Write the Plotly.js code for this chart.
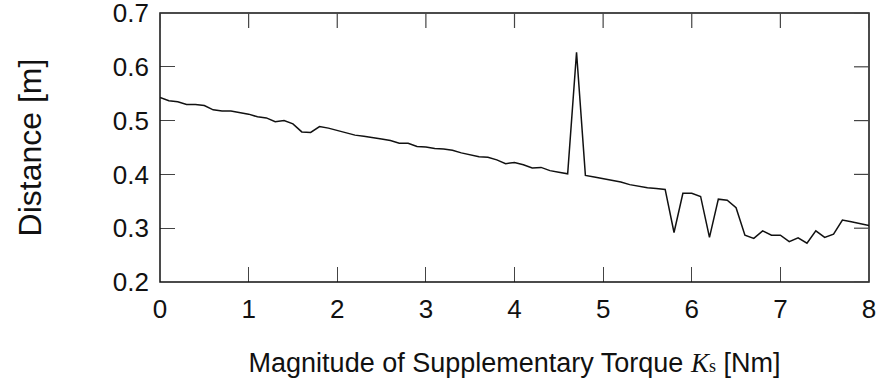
<!DOCTYPE html>
<html>
<head>
<meta charset="utf-8">
<script src="https://cdn.plot.ly/plotly-3.0.1.min.js"></script>
<style>html,body{margin:0;padding:0;background:#fff;}#chart{width:882px;height:387px;}</style>
</head>
<body>
<div id="chart"></div>
<script>
var torque = [0.0,0.1,0.2,0.3,0.4,0.5,0.6,0.7,0.8,0.9,
  1.0,1.1,1.2,1.3,1.4,1.5,1.6,1.7,1.8,1.9,
  2.0,2.1,2.2,2.3,2.4,2.5,2.6,2.7,2.8,2.9,
  3.0,3.1,3.2,3.3,3.4,3.5,3.6,3.7,3.8,3.9,
  4.0,4.1,4.2,4.3,4.4,4.5,4.6,4.7,4.8,4.9,
  5.0,5.1,5.2,5.3,5.4,5.5,5.6,5.7,5.8,5.9,
  6.0,6.1,6.2,6.3,6.4,6.5,6.6,6.7,6.8,6.9,
  7.0,7.1,7.2,7.3,7.4,7.5,7.6,7.7,7.8,7.9,8.0];
var distance = [0.543,0.537,0.535,0.530,0.530,0.528,0.520,0.518,0.518,0.515,
  0.512,0.507,0.505,0.498,0.500,0.494,0.479,0.478,0.489,0.486,
  0.482,0.478,0.473,0.471,0.469,0.466,0.463,0.458,0.458,0.452,
  0.451,0.448,0.447,0.445,0.440,0.437,0.433,0.432,0.427,0.420,
  0.422,0.418,0.412,0.413,0.407,0.404,0.401,0.627,0.398,0.395,
  0.392,0.389,0.386,0.381,0.378,0.375,0.374,0.372,0.292,0.365,
  0.365,0.359,0.283,0.354,0.352,0.338,0.287,0.281,0.295,0.287,
  0.287,0.275,0.282,0.272,0.295,0.283,0.289,0.315,0.312,0.309,0.305];
var xTicks = [0,1,2,3,4,5,6,7,8];
var yTicks = [0.2,0.3,0.4,0.5,0.6,0.7];
var xRange = [0, 8];
var yRange = [0.2, 0.7];

var W = 882, H = 387, M = {l: 160, r: 13, t: 13, b: 105};
var tickLenPx = 15;
var tickColor = '#444444';
var fxLen = tickLenPx / (H - M.t - M.b);   // tick length in paper units (vertical)
var fyLen = tickLenPx / (W - M.l - M.r);   // tick length in paper units (horizontal)

var trace = {
  x: torque, y: distance, type: 'scatter', mode: 'lines',
  line: {color: '#111111', width: 1.5}, hoverinfo: 'skip'
};
var fontFam = 'Liberation Sans, Arial, sans-serif';

// frame + mirrored ticks on top and right
var shapes = [{
  type: 'rect', xref: 'paper', yref: 'paper', x0: 0, x1: 1, y0: 0, y1: 1,
  line: {color: '#111111', width: 1.5}, fillcolor: 'rgba(0,0,0,0)', layer: 'above'
}];
xTicks.forEach(function(v){
  shapes.push({type: 'line', xref: 'x', yref: 'paper', x0: v, x1: v, y0: 1, y1: 1 - fxLen,
    line: {color: tickColor, width: 1.2}, layer: 'above'});
});
yTicks.forEach(function(v){
  shapes.push({type: 'line', xref: 'paper', yref: 'y', x0: 1, x1: 1 - fyLen, y0: v, y1: v,
    line: {color: tickColor, width: 1.2}, layer: 'above'});
});

var layout = {
  width: W, height: H,
  margin: M,
  paper_bgcolor: '#ffffff', plot_bgcolor: '#ffffff',
  showlegend: false,
  font: {family: fontFam, color: '#111111', size: 26},
  xaxis: {
    range: xRange, tickvals: xTicks, ticktext: xTicks.map(String),
    ticks: 'inside', ticklen: tickLenPx, tickwidth: 1.2, tickcolor: tickColor,
    showline: false, showgrid: false, zeroline: false,
    tickfont: {size: 26, family: fontFam, color: '#111111'},
    ticklabeloverflow: 'allow', ticklabelstandoff: 9,
    title: {
      text: "Magnitude of Supplementary Torque <span style=\"font-family:'Liberation Serif'\"><i>K</i></span><span style=\"font-family:'Liberation Serif';font-size:18px\">s</span> [Nm]",
      font: {size: 27, family: fontFam, color: '#111111'}, standoff: 30
    }
  },
  yaxis: {
    range: yRange, tickvals: yTicks,
    ticktext: yTicks.map(function(v){return v.toFixed(1);}),
    ticks: 'inside', ticklen: tickLenPx, tickwidth: 1.2, tickcolor: tickColor,
    showline: false, showgrid: false, zeroline: false,
    tickfont: {size: 26, family: fontFam, color: '#111111'},
    ticklabeloverflow: 'allow', ticklabelstandoff: 10,
    title: {text: 'Distance [m]', font: {size: 32, family: fontFam, color: '#111111'}, standoff: 61}
  },
  shapes: shapes
};
Plotly.newPlot('chart', [trace], layout, {displayModeBar: false, staticPlot: true});
</script>
</body>
</html>
